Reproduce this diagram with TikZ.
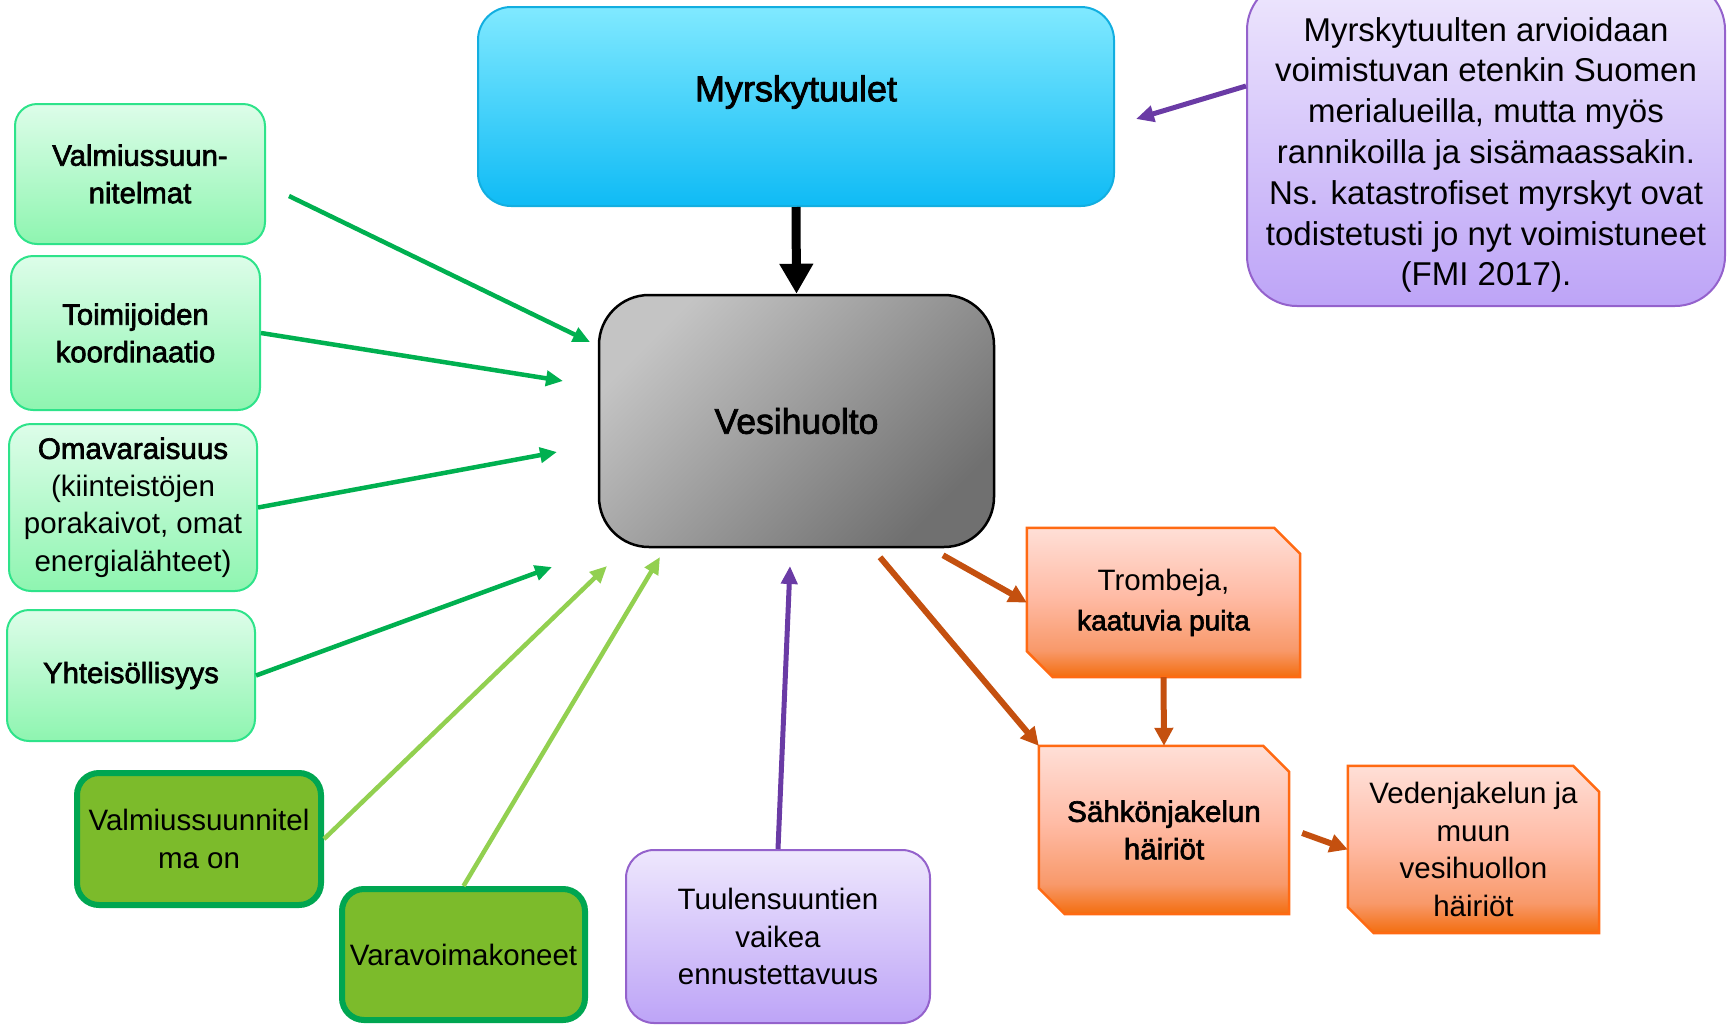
\documentclass[tikz,border=0pt]{standalone}
\usepackage{fontspec}
\setmainfont{Liberation Sans}
\newfontfamily\medfont[FakeBold=2.2]{Liberation Sans}
\usetikzlibrary{arrows.meta,backgrounds}
\definecolor{cyanT}{HTML}{80E9FF}
\definecolor{cyanB}{HTML}{0FBBF5}
\definecolor{cyanE}{HTML}{12AEE0}
\definecolor{grayL}{HTML}{C4C4C4}
\definecolor{grayD}{HTML}{707070}
\definecolor{purT}{HTML}{EEE7FD}
\definecolor{purB}{HTML}{BDA4F7}
\definecolor{purE}{HTML}{9462CC}
\definecolor{lgT}{HTML}{DDFDE9}
\definecolor{lgB}{HTML}{8EF5B0}
\definecolor{lgE}{HTML}{2EE38A}
\definecolor{dgF}{HTML}{7CBB2B}
\definecolor{dgE}{HTML}{00A651}
\definecolor{orT}{HTML}{FFDFD7}
\definecolor{orM}{HTML}{FFBBA5}
\definecolor{orQ}{HTML}{F8996A}
\definecolor{orB}{HTML}{F36D0E}
\definecolor{orE}{HTML}{FF6A13}
\definecolor{arG}{HTML}{00B050}
\definecolor{arLG}{HTML}{92D050}
\definecolor{arP}{HTML}{6A3BA5}
\definecolor{arO}{HTML}{C4500F}
\pgfdeclareverticalshading{orshade}{100bp}{color(0bp)=(orB); color(25bp)=(orB); color(34bp)=(orQ); color(52bp)=(orM); color(75bp)=(orT); color(100bp)=(orT)}
\tikzset{
  lgbox/.style={draw=lgE, line width=2pt, rounded corners=22pt, top color=lgT, bottom color=lgB,
    align=center, inner sep=0pt, font=\fontsize{29.3}{37.5}\selectfont\medfont},
  dgbox/.style={draw=dgE, line width=6pt, rounded corners=22pt, fill=dgF,
    align=center, inner sep=0pt, font=\fontsize{29.5}{37.5}\selectfont},
  pubox/.style={draw=purE, line width=2pt, top color=purT, bottom color=purB,
    align=center, inner sep=0pt, font=\fontsize{29.5}{37.5}\selectfont},
  ortext/.style={align=center, inner sep=0pt, font=\fontsize{29.5}{37.5}\selectfont},
  orshape/.style={draw=orE, line width=2.5pt, shading=orshade},
  lbl/.style={align=center, inner sep=0pt},
  garrow/.style={draw=arG, line width=4.5pt, -{Triangle[length=17pt,width=15pt]}},
  lgarrow/.style={draw=arLG, line width=4.5pt, -{Triangle[length=17pt,width=15pt]}},
  parrow/.style={draw=arP, line width=5pt, -{Triangle[length=18pt,width=16pt]}},
  oarrow/.style={draw=arO, line width=6pt, -{Triangle[length=18pt,width=18pt]}},
  karrow/.style={draw=black, line width=9pt, -{Triangle[length=30pt,width=32pt]}},
}
\begin{document}
\begin{tikzpicture}[x=1pt,y=-1pt]
\useasboundingbox (0,0) rectangle (1730,1026);

% main boxes
\node[draw=cyanE, line width=2pt, rounded corners=33pt, top color=cyanT, bottom color=cyanB,
  minimum width=636pt, minimum height=199pt] (my) at (796,106.5) {};
\node[lbl, font=\fontsize{36}{40}\selectfont\medfont] (mylbl) at (796,92) {Myrskytuulet};

\node[draw=black, line width=2.5pt, rounded corners=50pt, top color=grayL, bottom color=grayD, shading angle=45,
  minimum width=395pt, minimum height=252pt, lbl, font=\fontsize{35.5}{40}\selectfont\medfont] (vesi) at (796.5,421) {Vesihuolto};

\node[pubox, rounded corners=50pt, minimum width=478pt, minimum height=326pt] (co) at (1486,143) {};
\node[lbl, font=\fontsize{33}{40.8}\selectfont] (colbl) at (1486,155) {Myrskytuulten arvioidaan\\voimistuvan etenkin Suomen\\merialueilla, mutta myös\\rannikoilla ja sisämaassakin.\\Ns. katastrofiset myrskyt ovat\\todistetusti jo nyt voimistuneet\\(FMI 2017).};

% light green boxes
\node[lgbox, minimum width=250pt, minimum height=140pt] (v1) at (140,174) {Valmiussuun-\\nitelmat};
\node[lgbox, minimum width=249pt, minimum height=154pt] (v2) at (135.5,333) {Toimijoiden\\koordinaatio};
\node[lgbox, minimum width=248pt, minimum height=167pt, font=\fontsize{29.5}{37.5}\selectfont] (v3) at (133,507.5)
  {{\medfont Omavaraisuus}\\(kiinteistöjen\\porakaivot, omat\\energialähteet)};
\node[lgbox, minimum width=248pt, minimum height=131pt] (v4) at (131,675.5) {Yhteisöllisyys};

% dark green boxes
\node[dgbox, minimum width=244pt, minimum height=132pt] (d1) at (199,839) {Valmiussuunnitel\\ma on};
\node[dgbox, minimum width=243pt, minimum height=131pt] (d2) at (463.5,954.5) {Varavoimakoneet};

% purple bottom box
\node[pubox, rounded corners=28pt, minimum width=304pt, minimum height=173pt] (tu) at (778,936.5) {Tuulensuuntien\\vaikea\\ennustettavuus};

% orange boxes
\node[ortext, minimum width=273pt, minimum height=149pt, font=\fontsize{29.5}{40}\selectfont] (tr) at (1163.5,602.5)
  {Trombeja,\\{\fontsize{28}{40}\selectfont\medfont kaatuvia puita}};
\node[ortext, minimum width=250pt, minimum height=168pt, font=\fontsize{29.5}{37.5}\selectfont\medfont] (sa) at (1164,830) {Sähkönjakelun\\häiriöt};
\node[ortext, minimum width=251pt, minimum height=167pt] (ve) at (1473.5,849.5) {Vedenjakelun ja\\muun\\vesihuollon\\häiriöt};

\begin{pgfonlayer}{background}
\foreach \n in {tr,sa,ve}{
  \path[orshape] (\n.north west) -- ([xshift=-26pt]\n.north east) -- ([yshift=-26pt]\n.north east)
    -- (\n.south east) -- ([xshift=26pt]\n.south west) -- ([yshift=26pt]\n.south west) -- cycle;
}
\end{pgfonlayer}

% arrow end coordinates
\coordinate (t0) at (1136,119);
\coordinate (t1) at (590,342);
\coordinate (t2) at (563,381);
\coordinate (t3) at (557,452);
\coordinate (t4) at (552,567);
\coordinate (t5) at (607,566);
\coordinate (t6) at (660,557);
\coordinate (t7) at (790,566);

% arrows
\draw[karrow] (my.south) -- (vesi.north);
\draw[parrow] ([yshift=57pt]co.west) -- (t0);
\draw[garrow] ([shift={(23,22)}]v1.east) -- (t1);
\draw[garrow] (v2.east) -- (t2);
\draw[garrow] (v3.east) -- (t3);
\draw[garrow] (v4.east) -- (t4);
\draw[lgarrow] (d1.east) -- (t5);
\draw[lgarrow] (d2.north) -- (t6);
\draw[parrow] (tu.north) -- (t7);
\draw[oarrow] ([shift={(146.5,7)}]vesi.south) -- (tr.west);
\draw[oarrow] ([shift={(83.5,9)}]vesi.south) -- (sa.north west);
\draw[oarrow] (tr.south) -- (sa.north);
\draw[oarrow] ([shift={(13,3)}]sa.east) -- (ve.west);
\end{tikzpicture}
\end{document}
